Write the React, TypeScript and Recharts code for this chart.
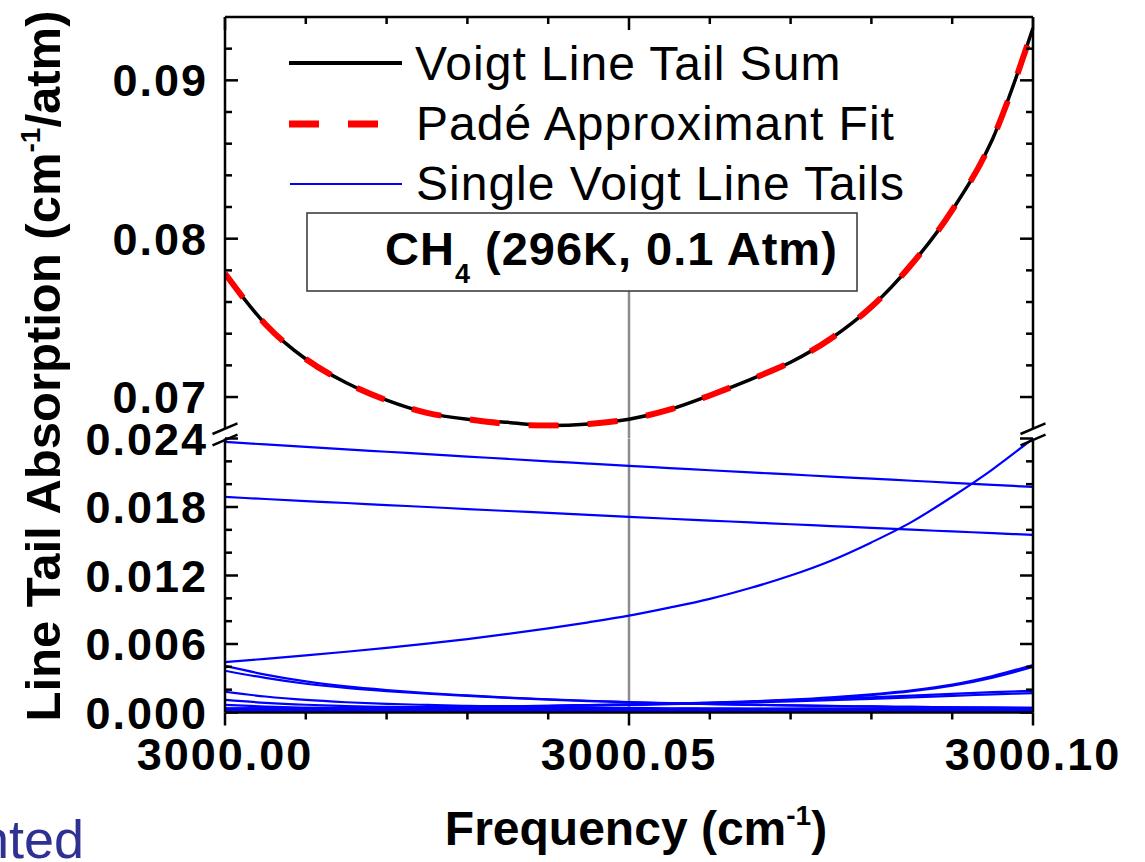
import React from 'react';
import { LineChart, Line, XAxis, YAxis, ReferenceLine } from 'recharts';

// frequency grid (cm-1)
const FREQ = [
  3000.0, 3000.005, 3000.01, 3000.015, 3000.02, 3000.025, 3000.03, 3000.035, 3000.04, 3000.045, 3000.05,
  3000.055, 3000.06, 3000.065, 3000.07, 3000.075, 3000.08, 3000.085, 3000.09, 3000.095, 3000.1,
];

// upper panel: summed tail and its Pade fit
const TAIL_SUM = [
  0.0778, 0.0746, 0.0724, 0.0709, 0.0698, 0.069, 0.0686, 0.0684, 0.0682, 0.0683, 0.0686,
  0.0692, 0.0701, 0.0711, 0.0722, 0.0737, 0.0757, 0.0784, 0.0818, 0.0863, 0.0933,
];
const PADE_FIT = [
  0.0778, 0.0746, 0.0724, 0.0709, 0.0698, 0.069, 0.0686, 0.0683, 0.0682, 0.0683, 0.0686,
  0.0692, 0.0701, 0.0711, 0.0722, 0.0737, 0.0757, 0.0784, 0.0818, 0.0863, 0.0933,
];

// lower panel: single line tails
const TAIL_A = [
  0.0237, 0.02348, 0.02327, 0.02305, 0.02284, 0.02263, 0.02242, 0.02221, 0.022, 0.0218, 0.0216,
  0.02141, 0.02122, 0.02103, 0.02085, 0.02066, 0.02048, 0.0203, 0.02012, 0.01994, 0.01976,
];
const TAIL_B = [
  0.01888, 0.0187, 0.01852, 0.01835, 0.01817, 0.018, 0.01782, 0.01765, 0.01748, 0.01731, 0.01714,
  0.01697, 0.01681, 0.01665, 0.01649, 0.01633, 0.01617, 0.01601, 0.01586, 0.01571, 0.01556,
];
const TAIL_C = [
  0.00442, 0.0047, 0.005, 0.00532, 0.00566, 0.00603, 0.00643, 0.00688, 0.00737, 0.0079, 0.00848,
  0.00918, 0.00995, 0.0109, 0.012, 0.0133, 0.0149, 0.0167, 0.0189, 0.0213, 0.024,
];
const TAIL_D1 = [
  0.00408, 0.00332, 0.00272, 0.00229, 0.00197, 0.00171, 0.0015, 0.00131, 0.00116, 0.00103, 0.00092,
  0.00083, 0.00075, 0.00069, 0.00063, 0.00058, 0.00053, 0.00049, 0.00046, 0.00042, 0.00039,
];
const TAIL_D2 = [
  0.00366, 0.00303, 0.00252, 0.00215, 0.00187, 0.00164, 0.00145, 0.00128, 0.00113, 0.001, 0.0009,
  0.00081, 0.00074, 0.00067, 0.00062, 0.00057, 0.00053, 0.00049, 0.00046, 0.00043, 0.0004,
];
const TAIL_D3 = [
  0.00182, 0.0014, 0.0011, 0.0009, 0.00076, 0.00066, 0.00058, 0.00052, 0.00047, 0.00043, 0.0004,
  0.00037, 0.00035, 0.00033, 0.00031, 0.0003, 0.00029, 0.00028, 0.00027, 0.00026, 0.00025,
];
const TAIL_D4 = [
  0.0011, 0.00085, 0.00068, 0.00057, 0.00049, 0.00043, 0.00039, 0.00035, 0.00032, 0.0003, 0.00028,
  0.00026, 0.00025, 0.00024, 0.00023, 0.00022, 0.00021, 0.0002, 0.0002, 0.00019, 0.00019,
];
const TAIL_D5 = [
  0.00066, 0.00052, 0.00043, 0.00037, 0.00032, 0.00029, 0.00026, 0.00024, 0.00022, 0.00021, 0.0002,
  0.00019, 0.00018, 0.00018, 0.00017, 0.00017, 0.00016, 0.00016, 0.00016, 0.00015, 0.00015,
];
const TAIL_E1 = [
  0.00032, 0.00034, 0.00036, 0.00039, 0.00042, 0.00046, 0.0005, 0.00054, 0.00059, 0.00065, 0.00071,
  0.00078, 0.00087, 0.00098, 0.00113, 0.00133, 0.0016, 0.00195, 0.00245, 0.0032, 0.00416,
];
const TAIL_E2 = [
  0.00031, 0.00033, 0.00035, 0.00038, 0.00041, 0.00044, 0.00048, 0.00052, 0.00057, 0.00062, 0.00068,
  0.00075, 0.00083, 0.00094, 0.00108, 0.00127, 0.00153, 0.00187, 0.00235, 0.00306, 0.004,
];
const TAIL_E3 = [
  0.00035, 0.00037, 0.00039, 0.00041, 0.00044, 0.00047, 0.00051, 0.00055, 0.00059, 0.00064, 0.0007,
  0.00077, 0.00085, 0.00094, 0.00105, 0.00118, 0.00133, 0.00148, 0.00164, 0.00178, 0.0019,
];
const TAIL_E4 = [
  0.00034, 0.00036, 0.00038, 0.0004, 0.00043, 0.00046, 0.00049, 0.00053, 0.00057, 0.00062, 0.00067,
  0.00073, 0.0008, 0.00088, 0.00097, 0.00108, 0.0012, 0.00133, 0.00146, 0.00158, 0.0017,
];
const TAIL_F1 = [
  0.00026, 0.00027, 0.00027, 0.00028, 0.00028, 0.00029, 0.0003, 0.0003, 0.00031, 0.00032, 0.00032,
  0.00033, 0.00034, 0.00035, 0.00035, 0.00036, 0.00037, 0.00038, 0.00039, 0.0004, 0.00041,
];
const TAIL_F2 = [
  0.00018, 0.00018, 0.00017, 0.00017, 0.00017, 0.00016, 0.00016, 0.00016, 0.00016, 0.00016, 0.00016,
  0.00016, 0.00016, 0.00016, 0.00016, 0.00017, 0.00017, 0.00017, 0.00018, 0.00018, 0.00019,
];
const TAIL_F3 = [
  0.00009, 0.00009, 0.00009, 0.00008, 0.00008, 0.00008, 0.00008, 0.00008, 0.00008, 0.00008, 0.00008,
  0.00008, 0.00008, 0.00008, 0.00008, 0.00008, 0.00008, 0.00008, 0.00009, 0.00009, 0.00009,
];

const TAILS = [
  TAIL_A, TAIL_B, TAIL_C, TAIL_D1, TAIL_D2, TAIL_D3, TAIL_D4, TAIL_D5,
  TAIL_E1, TAIL_E2, TAIL_E3, TAIL_E4, TAIL_F1, TAIL_F2, TAIL_F3,
];

// axis ticks
const FREQ_TICKS = [3000.0, 3000.01, 3000.02, 3000.03, 3000.04, 3000.05, 3000.06, 3000.07, 3000.08, 3000.09, 3000.1];
const FREQ_LABELS = [3000.0, 3000.05, 3000.1];
const UPPER_TICKS = [0.07, 0.072, 0.074, 0.076, 0.078, 0.08, 0.082, 0.084, 0.086, 0.088, 0.09, 0.092];
const UPPER_LABELS = [0.07, 0.08, 0.09];
const LOWER_TICKS = [0, 0.002, 0.004, 0.006, 0.008, 0.01, 0.012, 0.014, 0.016, 0.018, 0.02, 0.022, 0.024];
const LOWER_LABELS = [0, 0.006, 0.012, 0.018, 0.024];

const FREQ_DOMAIN = [3000, 3000.1];
const UPPER_DOMAIN = [0.068, 0.094];
const LOWER_DOMAIN = [0, 0.024];
const MARKER_FREQ = 3000.05;

const rows = FREQ.map((f, i) => {
  const r: Record<string, number> = { f, sum: TAIL_SUM[i], pade: PADE_FIT[i] };
  TAILS.forEach((t, j) => {
    r['t' + j] = t[i];
  });
  return r;
});

// layout
const W = 1145;
const PLOT_LEFT = 225;
const PLOT_RIGHT = 1033;
const PLOT_TOP = 17;
const UPPER_H = 440;
const UPPER_BOTTOM = 428.7;
const LOWER_Y = 390;
const LOWER_H = 472;
const LOWER_TOP = 438.5;
const LOWER_BOTTOM = 712.5;
const AXIS_W = 60;
const XAXIS_H = 10;

const FONT = '"Liberation Sans", Arial, Helvetica, sans-serif';
const AXIS_LINE = { stroke: '#000', strokeWidth: 2.5 };
const GRAY = '#8c8c8c';
const MAJOR = 13;
const MINOR = 7;

const tickText = {
  fontFamily: FONT,
  fontWeight: 700,
  fontSize: 45,
  letterSpacing: 2,
} as React.CSSProperties;

const isLabel = (v: number, list: number[]) => list.some((l) => Math.abs(l - v) < 1e-9);

function LeftTick({ x, y, payload, labels, digits }: any) {
  const major = isLabel(payload.value, labels);
  return (
    <g>
      <line x1={x} x2={x + (major ? MAJOR : MINOR)} y1={y} y2={y} stroke="#000" strokeWidth={2.5} />
      {major && (
        <text x={x - 17} y={y + 16} textAnchor="end" fill="#000" style={tickText}>
          {payload.value.toFixed(digits)}
        </text>
      )}
    </g>
  );
}

function RightTick({ x, y, payload, labels }: any) {
  const major = isLabel(payload.value, labels);
  return <line x1={x} x2={x - (major ? MAJOR : MINOR)} y1={y} y2={y} stroke="#000" strokeWidth={2.5} />;
}

function TopTick({ x, y, payload }: any) {
  const major = isLabel(payload.value, FREQ_LABELS);
  return <line x1={x} x2={x} y1={y} y2={y + (major ? MAJOR : MINOR)} stroke="#000" strokeWidth={2.5} />;
}

function BottomTick({ x, y, payload }: any) {
  const major = isLabel(payload.value, FREQ_LABELS);
  return (
    <g>
      <line x1={x} x2={x} y1={y} y2={y + (major ? MAJOR : MINOR)} stroke="#000" strokeWidth={2.5} />
      {major && (
        <text x={x} y={y + 57.5} textAnchor="middle" fill="#000" style={tickText}>
          {payload.value.toFixed(2)}
        </text>
      )}
    </g>
  );
}

// the two slashes marking the broken y axis
function BreakMark({ cx, cy }: { cx: number; cy: number }) {
  return <line x1={cx - 12.5} y1={cy + 5.3} x2={cx + 12.5} y2={cy - 5.3} stroke="#000" strokeWidth={2.5} />;
}

export default function App() {
  return (
    <div style={{ position: 'absolute', left: 0, top: 0, width: W, height: 862, background: '#fff', overflow: 'hidden' }}>
      {/* upper panel */}
      <div style={{ position: 'absolute', left: 0, top: 0 }}>
        <LineChart
          width={W}
          height={UPPER_H}
          data={rows}
          margin={{ top: PLOT_TOP - XAXIS_H, right: W - PLOT_RIGHT - AXIS_W, bottom: UPPER_H - UPPER_BOTTOM, left: PLOT_LEFT - AXIS_W }}
        >
          <XAxis
            xAxisId="f"
            orientation="top"
            type="number"
            dataKey="f"
            domain={FREQ_DOMAIN}
            ticks={FREQ_TICKS}
            interval={0}
            height={XAXIS_H}
            tickSize={0}
            tickMargin={0}
            tickLine={false}
            axisLine={AXIS_LINE}
            tick={(p: any) => <TopTick {...p} />}
            allowDataOverflow
          />
          <YAxis
            yAxisId="l"
            type="number"
            domain={UPPER_DOMAIN}
            ticks={UPPER_TICKS}
            interval={0}
            width={AXIS_W}
            tickSize={0}
            tickMargin={0}
            tickLine={false}
            axisLine={AXIS_LINE}
            tick={(p: any) => <LeftTick {...p} labels={UPPER_LABELS} digits={2} />}
            allowDataOverflow
          />
          <YAxis
            yAxisId="r"
            orientation="right"
            type="number"
            domain={UPPER_DOMAIN}
            ticks={UPPER_TICKS}
            interval={0}
            width={AXIS_W}
            tickSize={0}
            tickMargin={0}
            tickLine={false}
            axisLine={AXIS_LINE}
            tick={(p: any) => <RightTick {...p} labels={UPPER_LABELS} />}
            allowDataOverflow
          />
          <ReferenceLine
            xAxisId="f"
            yAxisId="l"
            segment={[
              { x: MARKER_FREQ, y: 0.0767 },
              { x: MARKER_FREQ, y: 0.0674 },
            ]}
            ifOverflow="visible"
            stroke={GRAY}
            strokeWidth={2.5}
          />
          <Line
            xAxisId="f"
            yAxisId="l"
            type="monotone"
            dataKey="sum"
            stroke="#000"
            strokeWidth={3.5}
            dot={false}
            activeDot={false}
            isAnimationActive={false}
          />
          <Line
            xAxisId="f"
            yAxisId="l"
            type="monotone"
            dataKey="pade"
            stroke="#ff0000"
            strokeWidth={6}
            strokeDasharray="30 29"
            dot={false}
            activeDot={false}
            isAnimationActive={false}
          />
        </LineChart>
      </div>

      {/* lower panel */}
      <div style={{ position: 'absolute', left: 0, top: LOWER_Y }}>
        <LineChart
          width={W}
          height={LOWER_H}
          data={rows}
          margin={{
            top: LOWER_TOP - LOWER_Y,
            right: W - PLOT_RIGHT - AXIS_W,
            bottom: LOWER_Y + LOWER_H - LOWER_BOTTOM - XAXIS_H,
            left: PLOT_LEFT - AXIS_W,
          }}
        >
          <XAxis
            xAxisId="f"
            orientation="bottom"
            type="number"
            dataKey="f"
            domain={FREQ_DOMAIN}
            ticks={FREQ_TICKS}
            interval={0}
            height={XAXIS_H}
            tickSize={0}
            tickMargin={0}
            tickLine={false}
            axisLine={AXIS_LINE}
            tick={(p: any) => <BottomTick {...p} />}
            allowDataOverflow
          />
          <YAxis
            yAxisId="l"
            type="number"
            domain={LOWER_DOMAIN}
            ticks={LOWER_TICKS}
            interval={0}
            width={AXIS_W}
            tickSize={0}
            tickMargin={0}
            tickLine={false}
            axisLine={AXIS_LINE}
            tick={(p: any) => <LeftTick {...p} labels={LOWER_LABELS} digits={3} />}
            allowDataOverflow
          />
          <YAxis
            yAxisId="r"
            orientation="right"
            type="number"
            domain={LOWER_DOMAIN}
            ticks={LOWER_TICKS}
            interval={0}
            width={AXIS_W}
            tickSize={0}
            tickMargin={0}
            tickLine={false}
            axisLine={AXIS_LINE}
            tick={(p: any) => <RightTick {...p} labels={LOWER_LABELS} />}
            allowDataOverflow
          />
          <ReferenceLine xAxisId="f" yAxisId="l" x={MARKER_FREQ} stroke={GRAY} strokeWidth={2.5} />
          {TAILS.map((_, j) => (
            <Line
              key={j}
              xAxisId="f"
              yAxisId="l"
              type="monotone"
              dataKey={'t' + j}
              stroke="#0000ff"
              strokeWidth={2.2}
              dot={false}
              activeDot={false}
              isAnimationActive={false}
            />
          ))}
        </LineChart>
      </div>

      {/* legend, annotation, titles */}
      <svg
        width={W}
        height={862}
        style={{ position: 'absolute', left: 0, top: 0, pointerEvents: 'none' }}
        fontFamily={FONT}
      >
        <line x1={289} x2={402} y1={63} y2={63} stroke="#000" strokeWidth={4} />
        <text x={415} y={80} fontSize={48} letterSpacing={1} fill="#000">Voigt Line Tail Sum</text>
        <line x1={289} x2={402} y1={124} y2={124} stroke="#ff0000" strokeWidth={7} strokeDasharray="30 29" />
        <text x={416} y={140} fontSize={48} letterSpacing={1} fill="#000">Padé Approximant Fit</text>
        <line x1={290} x2={402} y1={184} y2={184} stroke="#0000ff" strokeWidth={2.2} />
        <text x={416} y={200} fontSize={48} letterSpacing={1} fill="#000">Single Voigt Line Tails</text>

        <rect x={307} y={213} width={550} height={78} fill="#fff" stroke="#333" strokeWidth={1.5} />
        <text x={385} y={265} fontSize={47} fontWeight={700} letterSpacing={1} fill="#000">
          CH
          <tspan fontSize={27} dy={18}>4</tspan>
          <tspan dy={-18}> (296K, 0.1 Atm)</tspan>
        </text>

        <BreakMark cx={PLOT_LEFT} cy={UPPER_BOTTOM} />
        <BreakMark cx={PLOT_LEFT} cy={LOWER_TOP + 1.5} />
        <BreakMark cx={PLOT_RIGHT} cy={UPPER_BOTTOM} />
        <BreakMark cx={PLOT_RIGHT} cy={LOWER_TOP + 1.5} />

        <text transform="translate(60,366) rotate(-90)" textAnchor="middle" fontSize={49} fontWeight={700} fill="#000">
          Line Tail Absorption (cm
          <tspan fontSize={28} dy={-20}>-1</tspan>
          <tspan dy={20}>/atm)</tspan>
        </text>
        <text x={636} y={845} textAnchor="middle" fontSize={48} fontWeight={700} fill="#000">
          Frequency (cm
          <tspan fontSize={28} dy={-20}>-1</tspan>
          <tspan dy={20}>)</tspan>
        </text>

        <text x={-21} y={858} fontSize={54} fill="#2e3192">nted</text>
      </svg>
    </div>
  );
}
